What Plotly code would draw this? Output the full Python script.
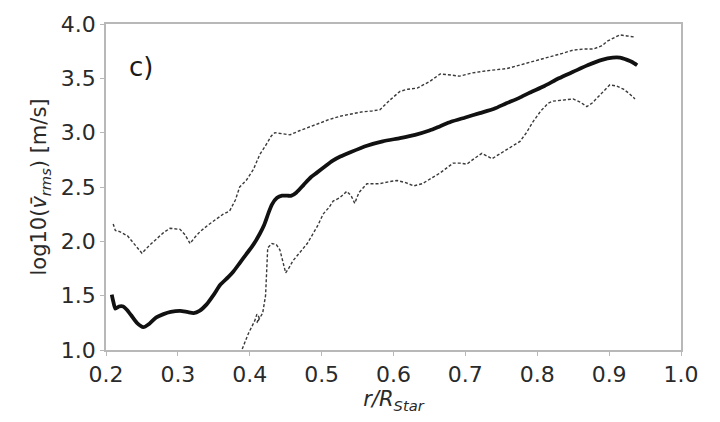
import plotly.graph_objects as go

# Radial profile of the rms velocity: mean (solid) and envelope (dashed)
r_mean = [0.208, 0.210, 0.213, 0.218, 0.224, 0.229, 0.235, 0.243, 0.252, 0.26, 0.27, 0.28, 0.29,
          0.303, 0.313, 0.322, 0.33, 0.34, 0.35, 0.359, 0.37, 0.377, 0.386, 0.395, 0.405, 0.414,
          0.42, 0.426, 0.431, 0.438, 0.445, 0.452, 0.458, 0.465, 0.475, 0.485, 0.493, 0.505,
          0.515, 0.526, 0.54, 0.563, 0.585, 0.609, 0.63, 0.65, 0.665, 0.68, 0.70, 0.72, 0.74,
          0.757, 0.775, 0.79, 0.81, 0.83, 0.85, 0.87, 0.89, 0.905, 0.915, 0.925, 0.932, 0.939]
v_mean = [1.51, 1.45, 1.38, 1.40, 1.40, 1.37, 1.32, 1.25, 1.21, 1.24, 1.30, 1.33, 1.35,
          1.36, 1.35, 1.34, 1.36, 1.42, 1.51, 1.60, 1.67, 1.72, 1.80, 1.88, 1.97, 2.07,
          2.15, 2.26, 2.34, 2.40, 2.42, 2.42, 2.42, 2.45, 2.52, 2.59, 2.63, 2.69,
          2.74, 2.78, 2.82, 2.88, 2.92, 2.95, 2.98, 3.02, 3.06, 3.10, 3.14, 3.18, 3.22,
          3.27, 3.32, 3.37, 3.43, 3.50, 3.56, 3.62, 3.67, 3.69, 3.69, 3.67, 3.65, 3.62]

r_upper = [0.21, 0.213, 0.219, 0.23, 0.24, 0.25, 0.26, 0.27, 0.28, 0.289, 0.303, 0.31, 0.317,
           0.324, 0.331, 0.342, 0.354, 0.363, 0.372, 0.38, 0.386, 0.395, 0.405, 0.414, 0.422,
           0.43, 0.435, 0.445, 0.456, 0.47, 0.493, 0.51, 0.525, 0.539, 0.555, 0.57, 0.581,
           0.595, 0.609, 0.62, 0.633, 0.65, 0.665, 0.68, 0.692, 0.71, 0.73, 0.758, 0.775,
           0.786, 0.80, 0.818, 0.835, 0.85, 0.865, 0.878, 0.89, 0.897, 0.905, 0.915, 0.925, 0.936]
v_upper = [2.16, 2.10, 2.09, 2.05, 1.97, 1.89, 1.96, 2.02, 2.08, 2.12, 2.11, 2.06, 1.98,
           2.04, 2.09, 2.15, 2.21, 2.25, 2.28, 2.38, 2.50, 2.56, 2.66, 2.80, 2.88,
           2.97, 3.00, 2.99, 2.98, 3.02, 3.08, 3.12, 3.15, 3.17, 3.19, 3.20, 3.21,
           3.30, 3.38, 3.40, 3.41, 3.47, 3.54, 3.53, 3.52, 3.55, 3.57, 3.59, 3.62,
           3.64, 3.67, 3.70, 3.73, 3.76, 3.77, 3.77, 3.80, 3.84, 3.87, 3.90, 3.89, 3.88]

r_lower = [0.375, 0.389, 0.398, 0.407, 0.41, 0.413, 0.41, 0.418, 0.422, 0.425, 0.431, 0.437,
           0.442, 0.447, 0.45, 0.455, 0.46, 0.47, 0.48, 0.488, 0.495, 0.502, 0.51, 0.516,
           0.525, 0.535, 0.541, 0.546, 0.552, 0.563, 0.58, 0.595, 0.605, 0.617, 0.628, 0.64,
           0.652, 0.665, 0.675, 0.683, 0.692, 0.702, 0.712, 0.723, 0.737, 0.747, 0.758, 0.768,
           0.776, 0.785, 0.794, 0.805, 0.815, 0.822, 0.835, 0.85, 0.86, 0.869, 0.876, 0.883,
           0.892, 0.901, 0.91, 0.92, 0.928, 0.936]
v_lower = [0.80, 1.00, 1.15, 1.27, 1.33, 1.30, 1.25, 1.34, 1.50, 1.94, 1.98, 1.97,
           1.92, 1.80, 1.71, 1.76, 1.82, 1.90, 1.98, 2.07, 2.15, 2.25, 2.31, 2.37,
           2.40, 2.46, 2.42, 2.35, 2.45, 2.53, 2.53, 2.55, 2.56, 2.54, 2.51, 2.53,
           2.58, 2.63, 2.68, 2.72, 2.72, 2.71, 2.76, 2.81, 2.76, 2.80, 2.85, 2.89,
           2.92, 3.00, 3.10, 3.20, 3.27, 3.29, 3.30, 3.31, 3.28, 3.24, 3.27, 3.32,
           3.38, 3.44, 3.43, 3.40, 3.36, 3.31]

x_ticks = [0.2, 0.3, 0.4, 0.5, 0.6, 0.7, 0.8, 0.9, 1.0]
y_ticks = [1.0, 1.5, 2.0, 2.5, 3.0, 3.5, 4.0]

FONT = "DejaVu Sans"
dash_style = dict(color="#3a3a3a", width=1.4, dash="3px,2px")

fig = go.Figure()
fig.add_trace(go.Scatter(x=r_upper, y=v_upper, mode="lines", line=dash_style))
fig.add_trace(go.Scatter(x=r_lower, y=v_lower, mode="lines", line=dash_style))
fig.add_trace(go.Scatter(x=r_mean, y=v_mean, mode="lines",
                         line=dict(color="#111111", width=3.8, shape="spline", smoothing=0.6)))

axis_common = dict(
    showgrid=False, zeroline=False, showline=True, linecolor="#b8b8b8", linewidth=1.5,
    mirror=True, ticks="outside", ticklen=4, tickcolor="#b8b8b8", tickwidth=1,
    tickfont=dict(family=FONT, size=22, color="#2a2a2a"),
)

fig.update_layout(
    width=720, height=422,
    margin=dict(l=106, r=39, t=22, b=72),
    paper_bgcolor="white", plot_bgcolor="white",
    showlegend=False,
    xaxis=dict(range=[0.2, 1.0], tickvals=x_ticks, ticktext=[f"{v:.1f}" for v in x_ticks],
               title=dict(text="<i>r/R<sub>Star</sub></i>", standoff=0,
                          font=dict(family=FONT, size=21, color="#2a2a2a")),
               **axis_common),
    yaxis=dict(range=[1.0, 4.0], tickvals=y_ticks, ticktext=[f"{v:.1f}" for v in y_ticks],
               title=dict(text="log10(<i>v̄<sub>rms</sub></i>) [m/s]", standoff=8,
                          font=dict(family=FONT, size=21, color="#2a2a2a")),
               **axis_common),
    annotations=[dict(x=0.229, y=3.6, xref="x", yref="y", text="c)", showarrow=False,
                      xanchor="left", yanchor="middle",
                      font=dict(family=FONT, size=26, color="#1a1a1a"))],
)

fig.write_html("out.html")
